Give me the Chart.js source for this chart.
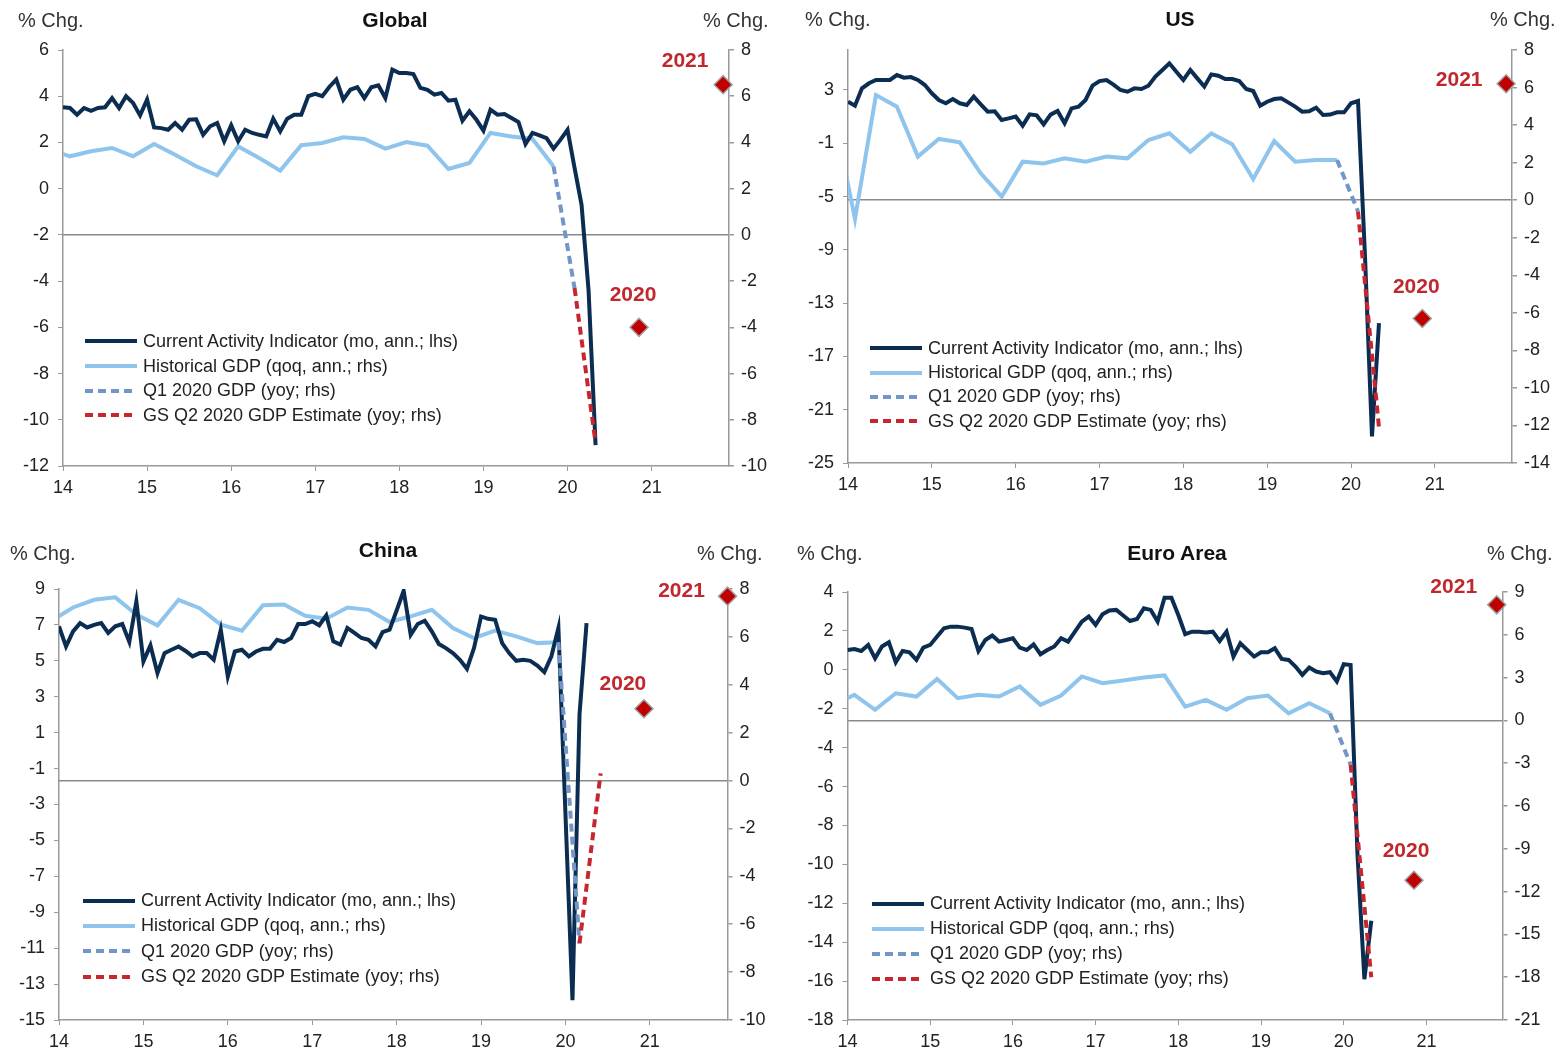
<!DOCTYPE html>
<html lang="en">
<head>
<meta charset="UTF-8">
<title>Current Activity Indicators vs GDP</title>
<style>
  body { margin: 0; background: #fff; font-family: "Liberation Sans", Arial, sans-serif; color: #222; }
  .panel { position: absolute; width: 783px; height: 527px; }
  .panel canvas { position: absolute; left: 0; top: 0; }
  .title { position: absolute; font-weight: bold; font-size: 21px; line-height: 24px; transform: translateX(-50%); white-space: nowrap; color: #111; }
  .unit { position: absolute; font-size: 20px; line-height: 24px; color: #333; white-space: nowrap; }
  .legend { position: absolute; font-size: 18px; color: #222; }
  .legend div { display: flex; align-items: center; white-space: nowrap; }
  .legend svg { margin-right: 6px; }
</style>
</head>
<body>
<script src="https://cdn.jsdelivr.net/npm/chart.js"></script>
<script>
// x axis years
const years = [14, 15, 16, 17, 18, 19, 20, 21];
const annualLabels = ['2020', '2021'];

// Current Activity Indicator, monthly from Jan 2014 (lhs)
const globalCai = [3.52, 3.49, 3.2, 3.49, 3.37, 3.49, 3.52, 3.92, 3.49, 4.0, 3.71, 3.17,
  3.85, 2.65, 2.62, 2.55, 2.84, 2.55, 2.98, 3.0, 2.33, 2.7, 2.84, 2.05,
  2.74, 2.05, 2.55, 2.41, 2.33, 2.26, 3.03, 2.48, 3.03, 3.2, 3.2, 4.0,
  4.1, 4.0, 4.4, 4.72, 3.85, 4.28, 4.39, 3.92, 4.39, 4.47, 3.92, 5.15,
  5.0, 5.0, 4.96, 4.36, 4.28, 4.07, 4.14, 3.81, 3.85, 2.94, 3.35, 2.98,
  2.51, 3.42, 3.2, 3.23, 3.06, 2.88, 1.93, 2.41, 2.31, 2.19, 1.73, 2.12,
  2.55, 0.9, -0.7, -4.4, -11.1];
const usCai = [2.12, 1.82, 3.12, 3.5, 3.75, 3.75, 3.75, 4.12, 3.92, 3.97, 3.75, 3.37,
  2.75, 2.25, 2.0, 2.32, 2.0, 1.87, 2.5, 1.92, 1.37, 1.4, 0.75, 0.87,
  1.0, 0.32, 1.17, 1.1, 0.42, 1.15, 1.42, 0.5, 1.62, 1.75, 2.25, 3.32,
  3.67, 3.75, 3.4, 3.0, 2.87, 3.12, 3.07, 3.32, 4.0, 4.5, 5.0, 4.37,
  3.75, 4.5, 3.87, 3.25, 4.17, 4.07, 3.82, 3.82, 3.67, 3.07, 2.92, 1.82,
  2.12, 2.32, 2.37, 2.07, 1.75, 1.37, 1.4, 1.67, 1.12, 1.15, 1.32, 1.32,
  2.0, 2.17, -9.5, -23.0, -14.5];
const chinaCai = [6.92, 5.8, 6.64, 7.1, 6.86, 7.0, 7.1, 6.55, 6.92, 7.05, 6.05, 8.31,
  4.97, 5.86, 4.32, 5.43, 5.62, 5.8, 5.55, 5.25, 5.43, 5.43, 5.06, 6.73,
  4.13, 5.52, 5.62, 5.25, 5.52, 5.67, 5.67, 6.17, 6.05, 6.27, 7.05, 7.05,
  7.2, 6.98, 7.53, 6.08, 5.9, 6.83, 6.55, 6.27, 6.17, 5.8, 6.6, 6.73,
  7.8, 8.9, 6.45, 7.05, 7.23, 6.64, 5.94, 5.71, 5.43, 5.06, 4.56, 5.71,
  7.47, 7.34, 7.29, 5.99, 5.43, 5.0, 5.06, 5.0, 4.74, 4.37, 5.25, 6.83,
  -3.5, -13.9, 2.0, 7.1];
const euroCai = [1.02, 1.07, 0.97, 1.28, 0.59, 1.2, 1.42, 0.39, 0.97, 0.9, 0.51, 1.14,
  1.28, 1.71, 2.14, 2.22, 2.22, 2.17, 2.1, 0.97, 1.53, 1.76, 1.45, 1.53,
  1.62, 1.14, 1.02, 1.31, 0.8, 1.02, 1.2, 1.62, 1.45, 1.96, 2.48, 2.74,
  2.31, 2.85, 3.05, 3.08, 2.79, 2.51, 2.61, 3.16, 3.08, 2.48, 3.71, 3.71,
  2.82, 1.83, 1.96, 1.96, 1.92, 1.96, 1.48, 1.96, 0.68, 1.36, 1.02, 0.68,
  0.9, 0.9, 1.11, 0.56, 0.51, 0.17, -0.26, 0.12, -0.09, -0.17, -0.12, -0.6,
  0.29, 0.25, -9.5, -15.9, -12.9];

// Historical GDP, quarterly from Q4 2013 (rhs)
const globalGdp = [3.7, 3.4, 3.62, 3.76, 3.4, 3.93, 3.47, 2.97, 2.58, 3.83, 3.33, 2.78,
  3.88, 3.98, 4.22, 4.15, 3.73, 4.02, 3.86, 2.85, 3.11, 4.41, 4.26, 4.15, 2.97];
const usGdp = [4.5, -1.0, 5.6, 4.98, 2.32, 3.26, 3.08, 1.43, 0.19, 2.05, 1.96, 2.23,
  2.05, 2.32, 2.23, 3.2, 3.56, 2.58, 3.56, 2.98, 1.13, 3.15, 2.05, 2.14, 2.14];
const chinaGdp = [6.68, 7.23, 7.55, 7.65, 6.93, 6.48, 7.55, 7.2, 6.51, 6.26, 7.32, 7.35,
  6.88, 6.76, 7.23, 7.13, 6.62, 6.86, 7.13, 6.37, 5.95, 6.26, 6.02, 5.74, 5.78];
const euroGdp = [1.1, 1.79, 0.74, 1.9, 1.67, 2.91, 1.56, 1.79, 1.67, 2.38, 1.09, 1.74,
  3.08, 2.61, 2.8, 3.0, 3.15, 0.97, 1.44, 0.74, 1.56, 1.74, 0.5, 1.2, 0.5];

// Q1 2020 GDP (yoy) and GS Q2 2020 estimate (yoy), rhs
const globalQ = [-2.3, -9.0];
const usQ = [-0.6, -12.1];
const chinaQ = [-6.8, 0.3];
const euroQ = [-3.1, -18.0];

// GS annual forecasts 2020, 2021 (rhs)
const globalAnnual = [-4.0, 6.5];
const usAnnual = [-6.3, 6.2];
const chinaAnnual = [3.0, 7.7];
const euroAnnual = [-11.2, 8.1];

// axis ticks
const globalLeftTicks = [-12, -10, -8, -6, -4, -2, 0, 2, 4, 6];
const globalRightTicks = [-10, -8, -6, -4, -2, 0, 2, 4, 6, 8];
const usLeftTicks = [-25, -21, -17, -13, -9, -5, -1, 3];
const usRightTicks = [-14, -12, -10, -8, -6, -4, -2, 0, 2, 4, 6, 8];
const chinaLeftTicks = [-15, -13, -11, -9, -7, -5, -3, -1, 1, 3, 5, 7, 9];
const chinaRightTicks = [-10, -8, -6, -4, -2, 0, 2, 4, 6, 8];
const euroLeftTicks = [-18, -16, -14, -12, -10, -8, -6, -4, -2, 0, 2, 4];
const euroRightTicks = [-21, -18, -15, -12, -9, -6, -3, 0, 3, 6, 9];

const legendItems = [
  ['Current Activity Indicator (mo, ann.; lhs)', '#0b2d52', null],
  ['Historical GDP (qoq, ann.; rhs)', '#8fc5ec', null],
  ['Q1 2020 GDP (yoy; rhs)', '#7396c8', '8 5'],
  ['GS Q2 2020 GDP Estimate (yoy; rhs)', '#c8262e', '8 5']
];

const panels = [
  { name: 'Global', left: 0, top: 0, area: [63, 729, 50, 466], titleX: 395, titleY: 8,
    unitY: 8, unitL: 18, unitR: 703, legend: [85, 329, 24.7],
    cai: globalCai, gdp: globalGdp, q: globalQ, annual: globalAnnual, qOff: 1, annX: [20.85, 21.85],
    yl: [-12, 6, globalLeftTicks], yr: [-10, 8, globalRightTicks],
    labelOff: [[-6, -32], [-38, -23]] },
  { name: 'US', left: 783, top: 0, area: [65, 729, 50, 463], titleX: 397, titleY: 7,
    unitY: 7, unitL: 22, unitR: 707, legend: [87, 336, 24.4],
    cai: usCai, gdp: usGdp, q: usQ, annual: usAnnual, qOff: 1, annX: [20.85, 21.85],
    yl: [-25, 6, usLeftTicks], yr: [-14, 8, usRightTicks],
    labelOff: [[-6, -31], [-47, -4]] },
  { name: 'China', left: 0, top: 530, area: [59, 727.5, 59, 490], titleX: 388, titleY: 8,
    unitY: 11, unitL: 10, unitR: 697, legend: [83, 358, 25.3],
    cai: chinaCai, gdp: chinaGdp, q: chinaQ, annual: chinaAnnual, qOff: 2, annX: [20.93, 21.92],
    yl: [-15, 9, chinaLeftTicks], yr: [-10, 8, chinaRightTicks],
    labelOff: [[-21, -25], [-46, -5]] },
  { name: 'Euro Area', left: 783, top: 530, area: [64.5, 719.5, 62, 490], titleX: 394, titleY: 11,
    unitY: 11, unitL: 14, unitR: 704, legend: [89, 361, 25],
    cai: euroCai, gdp: euroGdp, q: euroQ, annual: euroAnnual, qOff: 1, annX: [20.85, 21.85],
    yl: [-18, 4, euroLeftTicks], yr: [-21, 9, euroRightTicks],
    labelOff: [[-8, -29], [-43, -18]] }
];

const W = 783, H = 527;
Chart.defaults.font.family = '"Liberation Sans", Arial, sans-serif';
Chart.defaults.font.size = 18;
Chart.defaults.color = '#222';

// draws "2020" / "2021" next to the diamonds
const yearLabels = {
  id: 'yearLabels',
  afterDatasetsDraw(chart, args, opts) {
    const meta = chart.getDatasetMeta(0);
    const ctx = chart.ctx;
    ctx.save();
    ctx.font = 'bold 21px "Liberation Sans", Arial, sans-serif';
    ctx.fillStyle = '#c0282e';
    ctx.textAlign = 'center';
    ctx.textBaseline = 'middle';
    meta.data.forEach((pt, i) => {
      ctx.fillText(annualLabels[i], pt.x + opts.offsets[i][0], pt.y + opts.offsets[i][1]);
    });
    ctx.restore();
  }
};

function monthPts(vals) {
  return vals.map((v, i) => ({ x: 14 + i / 12, y: v }));
}
function qx(q, off) {
  return 14 + (3 * q + off) / 12;
}

function makePanel(p) {
  const div = document.createElement('div');
  div.className = 'panel';
  div.style.left = p.left + 'px';
  div.style.top = p.top + 'px';
  document.body.appendChild(div);

  const canvas = document.createElement('canvas');
  canvas.width = W;
  canvas.height = H;
  div.appendChild(canvas);

  const title = document.createElement('div');
  title.className = 'title';
  title.textContent = p.name;
  title.style.left = p.titleX + 'px';
  title.style.top = p.titleY + 'px';
  div.appendChild(title);

  [p.unitL, p.unitR].forEach(x => {
    const u = document.createElement('div');
    u.className = 'unit';
    u.textContent = '% Chg.';
    u.style.left = x + 'px';
    u.style.top = p.unitY + 'px';
    div.appendChild(u);
  });

  const lg = document.createElement('div');
  lg.className = 'legend';
  lg.style.left = p.legend[0] + 'px';
  lg.style.top = p.legend[1] + 'px';
  legendItems.forEach(([text, color, dash]) => {
    const row = document.createElement('div');
    row.style.height = p.legend[2] + 'px';
    row.innerHTML = '<svg width="52" height="8"><line x1="0" y1="4" x2="52" y2="4" stroke="' + color +
      '" stroke-width="4"' + (dash ? ' stroke-dasharray="' + dash + '"' : '') + '/></svg>';
    const span = document.createElement('span');
    span.textContent = text;
    row.appendChild(span);
    lg.appendChild(row);
  });
  div.appendChild(lg);

  const n = p.gdp.length - 2;  // index of Q4 2019 quarter (0 = Q1 2014)
  const gdpPts = p.gdp.map((v, i) => ({ x: qx(i - 1, p.qOff), y: v }));
  const q1Pts = [{ x: qx(n, p.qOff), y: p.gdp[p.gdp.length - 1] }, { x: qx(n + 1, p.qOff), y: p.q[0] }];
  const q2Pts = [{ x: qx(n + 1, p.qOff), y: p.q[0] }, { x: qx(n + 2, p.qOff), y: p.q[1] }];
  const annPts = p.annual.map((v, i) => ({ x: p.annX[i], y: v }));

  const [L, R, T, B] = p.area;
  const line = { type: 'line', pointRadius: 0, borderWidth: 4, tension: 0, fill: false };

  new Chart(canvas, {
    type: 'line',
    data: {
      datasets: [
        { type: 'scatter', data: annPts, yAxisID: 'yR', pointStyle: 'rectRot', pointRadius: 9,
          backgroundColor: '#c00000', borderColor: '#a0a0a0', borderWidth: 1.5, clip: false },
        Object.assign({}, line, { data: q2Pts, yAxisID: 'yR', borderColor: '#c8262e', borderDash: [8, 5] }),
        Object.assign({}, line, { data: q1Pts, yAxisID: 'yR', borderColor: '#7396c8', borderDash: [8, 5] }),
        Object.assign({}, line, { data: monthPts(p.cai), yAxisID: 'yL', borderColor: '#0b2d52' }),
        Object.assign({}, line, { data: gdpPts, yAxisID: 'yR', borderColor: '#8fc5ec' })
      ]
    },
    options: {
      responsive: false,
      animation: false,
      layout: { padding: { left: L - 50, right: W - R - 50, top: T, bottom: H - B - 40 } },
      plugins: { legend: { display: false }, tooltip: { enabled: false }, yearLabels: { offsets: p.labelOff } },
      scales: {
        x: {
          type: 'linear', min: 14, max: 21.92,
          afterBuildTicks: s => { s.ticks = years.map(v => ({ value: v })); },
          afterFit: s => { s.height = 40; },
          ticks: { callback: v => String(v), padding: 6, maxRotation: 0, autoSkip: false },
          grid: { drawOnChartArea: false, tickLength: 5, color: '#999' },
          border: { color: '#999', width: 1.5 }
        },
        yL: {
          position: 'left', min: p.yl[0], max: p.yl[1],
          afterBuildTicks: s => { s.ticks = p.yl[2].map(v => ({ value: v })); },
          afterFit: s => { s.width = 50; },
          ticks: { padding: 9 },
          grid: { drawOnChartArea: false, tickLength: 5, color: '#999' },
          border: { color: '#999', width: 1.5 }
        },
        yR: {
          position: 'right', min: p.yr[0], max: p.yr[1],
          afterBuildTicks: s => { s.ticks = p.yr[2].map(v => ({ value: v })); },
          afterFit: s => { s.width = 50; },
          ticks: { padding: 7 },
          grid: {
            drawOnChartArea: true, tickLength: 5, lineWidth: 1.5, tickColor: '#999',
            color: c => (c.tick && c.tick.value === 0 ? '#8a8a8a' : 'rgba(0,0,0,0)')
          },
          border: { color: '#999', width: 1.5 }
        }
      }
    },
    plugins: [yearLabels]
  });
}

panels.forEach(makePanel);
</script>
</body>
</html>
